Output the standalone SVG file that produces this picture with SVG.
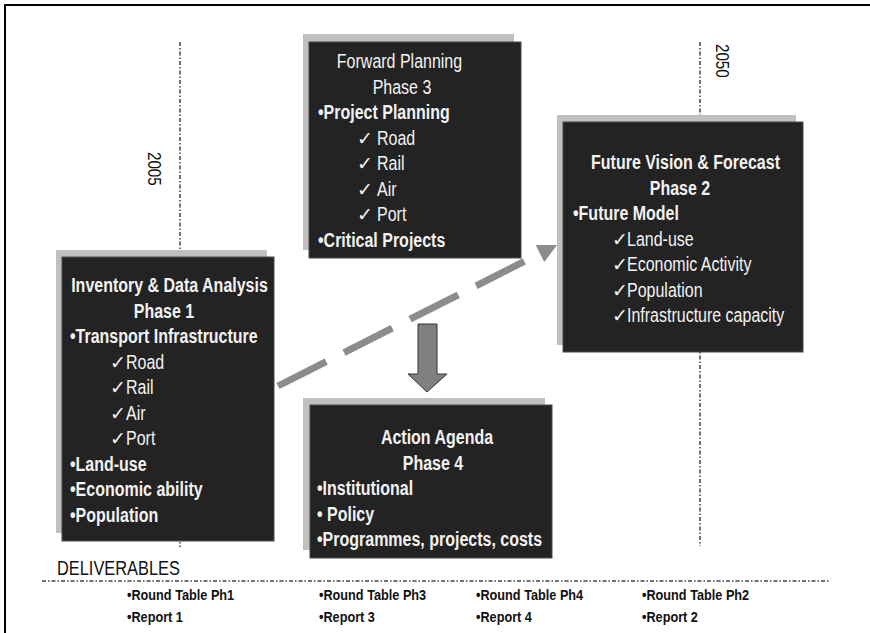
<svg xmlns="http://www.w3.org/2000/svg" width="870" height="633" viewBox="0 0 870 633">
<style>
  .shadow { fill: #c0c0c0; }
  .box { fill: #232323; stroke: #4a4a4a; stroke-width: 1; }
  .t { font-family: "Liberation Sans", Arial, sans-serif; font-size: 19.5px; fill: #f2f2f2; }
  .b { font-weight: bold; }
  .mid { text-anchor: middle; }
  .ck { font-family: "DejaVu Sans", sans-serif; font-size: 19px; fill: #f2f2f2; }
  .year { font-family: "Liberation Sans", Arial, sans-serif; font-size: 18.5px; fill: #111; }
  .deliv { font-family: "Liberation Sans", Arial, sans-serif; font-size: 15.5px; font-weight: bold; fill: #111; }
  .timeline { stroke: #444; stroke-width: 1.5; stroke-dasharray: 4 2 1.5 2; fill: none; }
</style>
<rect x="0" y="0" width="870" height="633" fill="#ffffff"/>
<rect x="5" y="5" width="880" height="640" fill="none" stroke="#000" stroke-width="2"/>

<g id="timelines">
  <line class="timeline" x1="180" y1="42" x2="180" y2="547"/>
  <line class="timeline" x1="700" y1="42" x2="700" y2="546"/>
  <line class="timeline" x1="42" y1="581" x2="830" y2="581" stroke="#555"/>
  <text class="year" transform="translate(148,152) rotate(90) scale(0.82,1)">2005</text>
  <text class="year" transform="translate(716,44) rotate(90) scale(0.82,1)">2050</text>
</g>

<g id="phase1">
  <rect class="shadow" x="56" y="250" width="211" height="283"/>
  <rect class="box" x="62" y="257" width="212" height="284"/>
  <text class="t b mid" transform="translate(169.5,292) scale(0.82,1)">Inventory &amp; Data Analysis</text>
  <text class="t b mid" transform="translate(164,317.5) scale(0.82,1)">Phase 1</text>
  <text class="t b" transform="translate(70,343) scale(0.82,1)">•Transport Infrastructure</text>
  <text class="ck" x="110" y="368.5">✓</text><text class="t" transform="translate(126,368.5) scale(0.82,1)">Road</text>
  <text class="ck" x="110" y="394">✓</text><text class="t" transform="translate(126,394) scale(0.82,1)">Rail</text>
  <text class="ck" x="110" y="419.5">✓</text><text class="t" transform="translate(126,419.5) scale(0.82,1)">Air</text>
  <text class="ck" x="110" y="445">✓</text><text class="t" transform="translate(126,445) scale(0.82,1)">Port</text>
  <text class="t b" transform="translate(70,470.5) scale(0.82,1)">•Land-use</text>
  <text class="t b" transform="translate(70,496) scale(0.82,1)">•Economic ability</text>
  <text class="t b" transform="translate(70,521.5) scale(0.82,1)">•Population</text>
</g>

<g id="phase3">
  <rect class="shadow" x="303" y="34" width="211" height="216"/>
  <rect class="box" x="309" y="42" width="212" height="216"/>
  <text class="t mid" transform="translate(399.5,68) scale(0.82,1)">Forward Planning</text>
  <text class="t mid" transform="translate(402,93.5) scale(0.82,1)">Phase 3</text>
  <text class="t b" transform="translate(318,119) scale(0.82,1)">•Project Planning</text>
  <text class="ck" x="357" y="144.5">✓</text><text class="t" transform="translate(377,144.5) scale(0.82,1)">Road</text>
  <text class="ck" x="357" y="170">✓</text><text class="t" transform="translate(377,170) scale(0.82,1)">Rail</text>
  <text class="ck" x="357" y="195.5">✓</text><text class="t" transform="translate(377,195.5) scale(0.82,1)">Air</text>
  <text class="ck" x="357" y="221">✓</text><text class="t" transform="translate(377,221) scale(0.82,1)">Port</text>
  <text class="t b" transform="translate(318,246.5) scale(0.82,1)">•Critical Projects</text>
</g>

<g id="phase2">
  <rect class="shadow" x="557" y="115" width="239" height="230"/>
  <rect class="box" x="563" y="122" width="240" height="230"/>
  <text class="t b mid" transform="translate(685.5,169) scale(0.82,1)">Future Vision &amp; Forecast</text>
  <text class="t b mid" transform="translate(680,194.5) scale(0.82,1)">Phase 2</text>
  <text class="t b" transform="translate(573,220) scale(0.82,1)">•Future Model</text>
  <text class="ck" x="612" y="245.5">✓</text><text class="t" transform="translate(627,245.5) scale(0.82,1)">Land-use</text>
  <text class="ck" x="612" y="271">✓</text><text class="t" transform="translate(627,271) scale(0.82,1)">Economic Activity</text>
  <text class="ck" x="612" y="296.5">✓</text><text class="t" transform="translate(627,296.5) scale(0.82,1)">Population</text>
  <text class="ck" x="612" y="322">✓</text><text class="t" transform="translate(627,322) scale(0.82,1)">Infrastructure capacity</text>
</g>

<g id="phase4">
  <rect class="shadow" x="303" y="398" width="242" height="152"/>
  <rect class="box" x="310" y="405" width="242" height="153"/>
  <text class="t b mid" transform="translate(437,444) scale(0.82,1)">Action Agenda</text>
  <text class="t b mid" transform="translate(433,469.5) scale(0.82,1)">Phase 4</text>
  <text class="t b" transform="translate(317,495) scale(0.82,1)">•Institutional</text>
  <text class="t b" transform="translate(317,520.5) scale(0.82,1)">• Policy</text>
  <text class="t b" transform="translate(317,546) scale(0.82,1)">•Programmes, projects, costs</text>
</g>

<g id="connectors">
  <line x1="278" y1="386" x2="541" y2="253" stroke="#8c8c8c" stroke-width="7" stroke-dasharray="54 20"/>
  <polygon points="557,245 535.7,245.1 544.3,262.1" fill="#8c8c8c"/>
  <polygon points="418,324 437,324 437,374 447,374 427,392 408,374 418,374" fill="#808080" stroke="#333" stroke-width="1"/>
</g>

<g id="deliverables">
  <text transform="translate(57,575) scale(0.82,1)" font-family="Liberation Sans, Arial, sans-serif" font-size="20" fill="#111">DELIVERABLES</text>
  <text class="deliv" transform="translate(127,600) scale(0.82,1)">•Round Table Ph1</text>
  <text class="deliv" transform="translate(127,622) scale(0.82,1)">•Report 1</text>
  <text class="deliv" transform="translate(319,600) scale(0.82,1)">•Round Table Ph3</text>
  <text class="deliv" transform="translate(319,622) scale(0.82,1)">•Report 3</text>
  <text class="deliv" transform="translate(476,600) scale(0.82,1)">•Round Table Ph4</text>
  <text class="deliv" transform="translate(476,622) scale(0.82,1)">•Report 4</text>
  <text class="deliv" transform="translate(642,600) scale(0.82,1)">•Round Table Ph2</text>
  <text class="deliv" transform="translate(642,622) scale(0.82,1)">•Report 2</text>
</g>
</svg>
